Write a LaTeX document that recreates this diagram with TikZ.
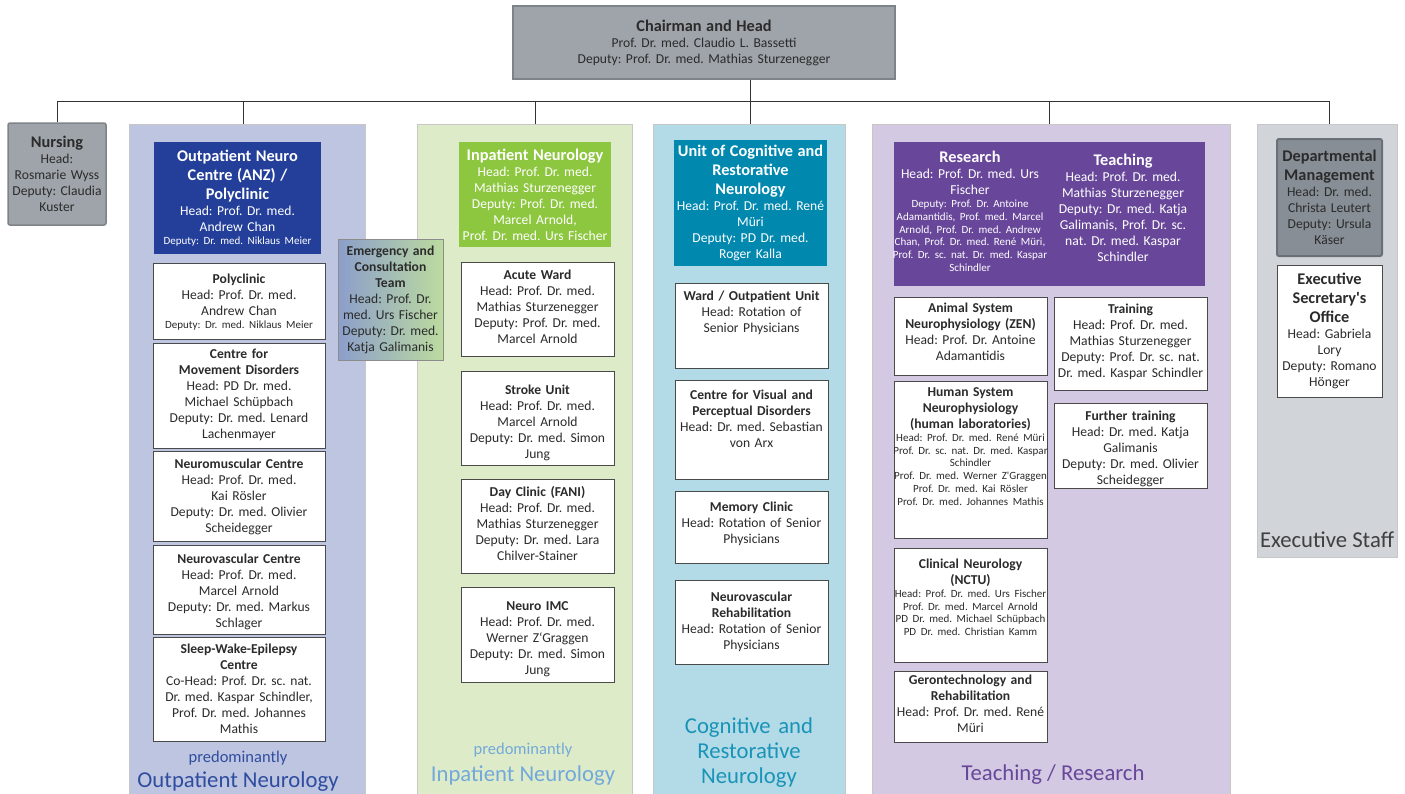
\documentclass[tikz,border=0pt]{standalone}
\usepackage{fontspec}
\setmainfont{Carlito}
\usepackage{tikz}
\usetikzlibrary{positioning,calc}

\definecolor{chairgray}{HTML}{9EA4AA}
\definecolor{chairline}{HTML}{7E8388}
\definecolor{outbg}{HTML}{BDC5E0}
\definecolor{outblue}{HTML}{233F99}
\definecolor{outlabel}{HTML}{2F4C9F}
\definecolor{inbg}{HTML}{DDEBC8}
\definecolor{ingreen}{HTML}{8DC63F}
\definecolor{inlabel}{HTML}{72A9DA}
\definecolor{cogbg}{HTML}{B3DAE7}
\definecolor{cogblue}{HTML}{0088AF}
\definecolor{coglabel}{HTML}{1994B7}
\definecolor{resbg}{HTML}{D3C9E2}
\definecolor{respurple}{HTML}{68479B}
\definecolor{exbg}{HTML}{D1D4D8}
\definecolor{mgmtgray}{HTML}{878E96}
\definecolor{mgmtline}{HTML}{6A7077}
\definecolor{unitline}{HTML}{4A4A4A}
\definecolor{textgray}{HTML}{2B2B2B}
\definecolor{emleft}{HTML}{8C9ECB}
\definecolor{emright}{HTML}{BCDB9F}

\newcommand\bodyfont{\fontsize{13.6}{16}\selectfont\frenchspacing}
\newcommand\smallfont{\fontsize{11}{12.8}\selectfont}
\newcommand\titlefont{\fontsize{16.3}{19}\selectfont\bfseries}
\newcommand\labelfont{\fontsize{22.7}{25}\selectfont}
\newcommand\prefont{\fontsize{16.5}{18}\selectfont}

\tikzset{
  colbg/.style={draw=black!22, line width=0.8pt},
  link/.style={draw=black!80, line width=1pt},
  headbox/.style={draw=chairline, line width=2pt, fill=chairgray, align=center, font=\bodyfont, text=textgray, inner ysep=0pt, inner xsep=-4pt},
  colhead/.style={text=white, align=center, font=\bodyfont, inner ysep=0pt, inner xsep=-4pt},
  unit/.style={draw=unitline, fill=white, line width=1pt, anchor=north, align=center, inner xsep=-4pt, inner ysep=4pt, text height=13pt, font=\bodyfont, text=textgray},
  outunit/.style={unit, text width=180pt},
  midunit/.style={unit, text width=161pt},
  collabel/.style={align=center, font=\labelfont},
}

\begin{document}
\begin{tikzpicture}[x=1pt,y=-1pt]
\useasboundingbox (0,0) rectangle (1405,793);

% column backgrounds
\draw[colbg, fill=outbg] (129,124) rectangle (365,794);
\draw[colbg, fill=inbg] (417,124) rectangle (632,794);
\draw[colbg, fill=cogbg] (653,124) rectangle (845,794);
\draw[colbg, fill=resbg] (872,124) rectangle (1230,794);
\draw[colbg, fill=exbg] (1257,124) rectangle (1397,557);

% top
\node (chair) [headbox, text width=390pt, minimum width=382pt, minimum height=73pt] at (704,42.5) {{\titlefont Chairman and Head\par}Prof. Dr. med. Claudio L. Bassetti\\ Deputy: Prof. Dr. med. Mathias Sturzenegger};
\node (nursing) [headbox, line width=1.5pt, rounded corners=2pt, text width=106pt, minimum width=98pt, minimum height=102pt] at (57,174) {{\titlefont Nursing\par}Head:\\ Rosmarie Wyss\\ Deputy: Claudia\\ Kuster};

% outpatient
\node (outhead) [colhead, fill=outblue, text width=175pt, minimum width=167pt, minimum height=112pt] at (237.5,198) {{\titlefont Outpatient Neuro\\ Centre (ANZ) /\\ Polyclinic\par}Head: Prof. Dr. med.\\ Andrew Chan\par{\smallfont Deputy: Dr. med. Niklaus Meier\par}};
\node (poly) [outunit, text height=16pt, text depth=52pt] at (239,263) {{\bfseries Polyclinic}\\ Head: Prof. Dr. med.\\ Andrew Chan\par{\smallfont Deputy: Dr. med. Niklaus Meier\par}};
\node (move) [outunit, text height=11pt, text depth=86pt] at (239,343) {{\bfseries Centre for\\ Movement Disorders}\\ Head: PD Dr. med.\\ Michael Schüpbach\\ Deputy: Dr. med. Lenard\\ Lachenmayer};
\node (muscle) [outunit, text depth=69pt] at (239,451) {{\bfseries Neuromuscular Centre}\\ Head: Prof. Dr. med.\\ Kai Rösler\\ Deputy: Dr. med. Olivier\\ Scheidegger};
\node (vasc) [outunit, text height=14pt, text depth=67pt] at (239,545) {{\bfseries Neurovascular Centre}\\ Head: Prof. Dr. med.\\ Marcel Arnold\\ Deputy: Dr. med. Markus\\ Schlager};
\node (sleep) [outunit, text height=12pt, text depth=84pt] at (239,637) {{\bfseries Sleep-Wake-Epilepsy\\ Centre}\\ Co-Head: Prof. Dr. sc. nat.\\ Dr. med. Kaspar Schindler,\\ Prof. Dr. med. Johannes\\ Mathis};
\node (outpre) [text=outlabel, font=\prefont] at (238,758) {predominantly};
\node (outlab) [collabel, text=outlabel] at (238,782) {Outpatient Neurology};

% emergency team
\node (emerg) [draw=black!45, line width=1pt, left color=emleft, right color=emright, text width=113pt, minimum width=105pt, minimum height=121pt, inner xsep=-4pt, inner ysep=1pt, align=center, font=\bodyfont, text=textgray] at (390.5,299.5) {{\bfseries Emergency and\\ Consultation\\ Team}\\ Head: Prof. Dr.\\ med. Urs Fischer\\ Deputy: Dr. med.\\ Katja Galimanis};

% inpatient
\node (inhead) [colhead, fill=ingreen, text width=160pt, minimum width=152pt, minimum height=105pt] at (535,194.5) {{\titlefont Inpatient Neurology\par}Head: Prof. Dr. med.\\ Mathias Sturzenegger\\ Deputy: Prof. Dr. med.\\ Marcel Arnold,\\ Prof. Dr. med. Urs Fischer};
\node (acute) [midunit, text depth=73pt] at (537.5,262) {{\bfseries Acute Ward}\\ Head: Prof. Dr. med.\\ Mathias Sturzenegger\\ Deputy: Prof. Dr. med.\\ Marcel Arnold};
\node (stroke) [midunit, text height=19pt, text depth=67pt] at (537.5,371) {{\bfseries Stroke Unit}\\ Head: Prof. Dr. med.\\ Marcel Arnold\\ Deputy: Dr. med. Simon\\ Jung};
\node (day) [midunit, text depth=73pt] at (537.5,479) {{\bfseries Day Clinic (FANI)}\\ Head: Prof. Dr. med.\\ Mathias Sturzenegger\\ Deputy: Dr. med. Lara\\ Chilver-Stainer};
\node (imc) [midunit, text height=19pt, text depth=68pt] at (537.5,587) {{\bfseries Neuro IMC}\\ Head: Prof. Dr. med.\\ Werner Z`Graggen\\ Deputy: Dr. med. Simon\\ Jung};
\node (inpre) [text=inlabel, font=\prefont] at (523,750) {predominantly};
\node (inlab) [collabel, text=inlabel] at (523,776) {Inpatient Neurology};

% cognitive and restorative
\node (coghead) [colhead, fill=cogblue, text width=161pt, minimum width=153pt, minimum height=126pt] at (750.5,203) {{\titlefont Unit of Cognitive and\\ Restorative\\ Neurology\par}Head: Prof. Dr. med. René\\ Müri\\ Deputy: PD Dr. med.\\ Roger Kalla};
\node (ward) [midunit, text depth=64pt] at (751.5,283) {{\bfseries Ward / Outpatient Unit}\\ Head: Rotation of\\ Senior Physicians};
\node (visual) [midunit, text height=15pt, text depth=76pt] at (751.5,380) {{\bfseries Centre for Visual and\\ Perceptual Disorders}\\ Head: Dr. med. Sebastian\\ von Arx};
\node (memory) [midunit, text height=16pt, text depth=48pt] at (751.5,491) {{\bfseries Memory Clinic}\\ Head: Rotation of Senior\\ Physicians};
\node (rehab) [midunit, text height=17pt, text depth=59pt] at (751.5,580) {{\bfseries Neurovascular\\ Rehabilitation}\\ Head: Rotation of Senior\\ Physicians};
\node (coglab) [collabel, text=coglabel, text width=190pt] at (749,753) {Cognitive and\\ Restorative\\ Neurology};

% teaching and research
\node (reshead) [fill=respurple, minimum width=311pt, minimum height=144pt, inner sep=0pt] at (1049.5,214) {};
\node (restext) [colhead, text width=164pt, anchor=north] at (970,151) {{\titlefont Research\par}Head: Prof. Dr. med. Urs\\ Fischer\par{\smallfont Deputy: Prof. Dr. Antoine\\ Adamantidis, Prof. med. Marcel\\ Arnold, Prof. Dr. med. Andrew\\ Chan, Prof. Dr. med. René Müri,\\ Prof. Dr. sc. nat. Dr. med. Kaspar\\ Schindler\par}};
\node (teachtext) [colhead, text width=164pt, anchor=north] at (1123,154) {{\titlefont Teaching\par}Head: Prof. Dr. med.\\ Mathias Sturzenegger\\ Deputy: Dr. med. Katja\\ Galimanis, Prof. Dr. sc.\\ nat. Dr. med. Kaspar\\ Schindler};
\node (animal) [midunit, text height=11pt, text depth=59pt] at (970.5,297) {{\bfseries Animal System\\ Neurophysiology (ZEN)}\\ Head: Prof. Dr. Antoine\\ Adamantidis};
\node (human) [midunit, text height=11pt, text depth=138pt] at (970.5,381) {{\bfseries Human System\\ Neurophysiology\\ (human laboratories)\par}{\smallfont Head: Prof. Dr. med. René Müri\\ Prof. Dr. sc. nat. Dr. med. Kaspar\\ Schindler\\ Prof. Dr. med. Werner Z\textquotesingle Graggen\\ Prof. Dr. med. Kai Rösler\\ Prof. Dr. med. Johannes Mathis\par}};
\node (clinical) [midunit, text height=16pt, text depth=90pt] at (970.5,548) {{\bfseries Clinical Neurology\\ (NCTU)\par}{\smallfont Head: Prof. Dr. med. Urs Fischer\\ Prof. Dr. med. Marcel Arnold\\ PD Dr. med. Michael Schüpbach\\ PD Dr. med. Christian Kamm\par}};
\node (geronto) [midunit, text height=9pt, text depth=54pt] at (970.5,671) {{\bfseries Gerontechnology and\\ Rehabilitation}\\ Head: Prof. Dr. med. René\\ Müri};
\node (training) [midunit, text height=12pt, text depth=73pt] at (1130.5,297) {{\bfseries Training}\\ Head: Prof. Dr. med.\\ Mathias Sturzenegger\\ Deputy: Prof. Dr. sc. nat.\\ Dr. med. Kaspar Schindler};
\node (further) [midunit, text depth=64pt] at (1130.5,403) {{\bfseries Further training}\\ Head: Dr. med. Katja\\ Galimanis\\ Deputy: Dr. med. Olivier\\ Scheidegger};
\node (reslab) [collabel, text=respurple] at (1053,775) {Teaching / Research};

% executive staff
\node (mgmt) [draw=mgmtline, line width=2pt, fill=mgmtgray, rounded corners=2pt, text width=113pt, minimum width=105pt, minimum height=117pt, align=center, inner xsep=-4pt, inner ysep=0pt, font=\bodyfont, text=textgray] at (1329.5,197.5) {{\titlefont Departmental\\ Management\par}Head: Dr. med.\\ Christa Leutert\\ Deputy: Ursula\\ Käser};
\node (office) [unit, text width=113pt, text height=15pt, text depth=109pt] at (1329.5,265) {{\titlefont Executive\\ Secretary\textquotesingle s\\ Office\par}Head: Gabriela\\ Lory\\ Deputy: Romano\\ Hönger};
\node (exlab) [collabel, text=black!75] at (1327,540) {Executive Staff};

% connectors
\coordinate (bus) at (0,101);
\coordinate (coltop) at (0,124);
\draw[link] (nursing.north) -- (nursing.north |- bus) -- (mgmt.north |- bus) -- (mgmt.north |- coltop);
\draw[link] (coghead.north |- chair.south) -- (coghead.north |- coltop);
\draw[link] ([xshift=5.5pt]outhead.north |- bus) -- ([xshift=5.5pt]outhead.north |- coltop);
\foreach \n in {inhead,reshead}
  \draw[link] (\n.north |- bus) -- (\n.north |- coltop);
\end{tikzpicture}
\end{document}
